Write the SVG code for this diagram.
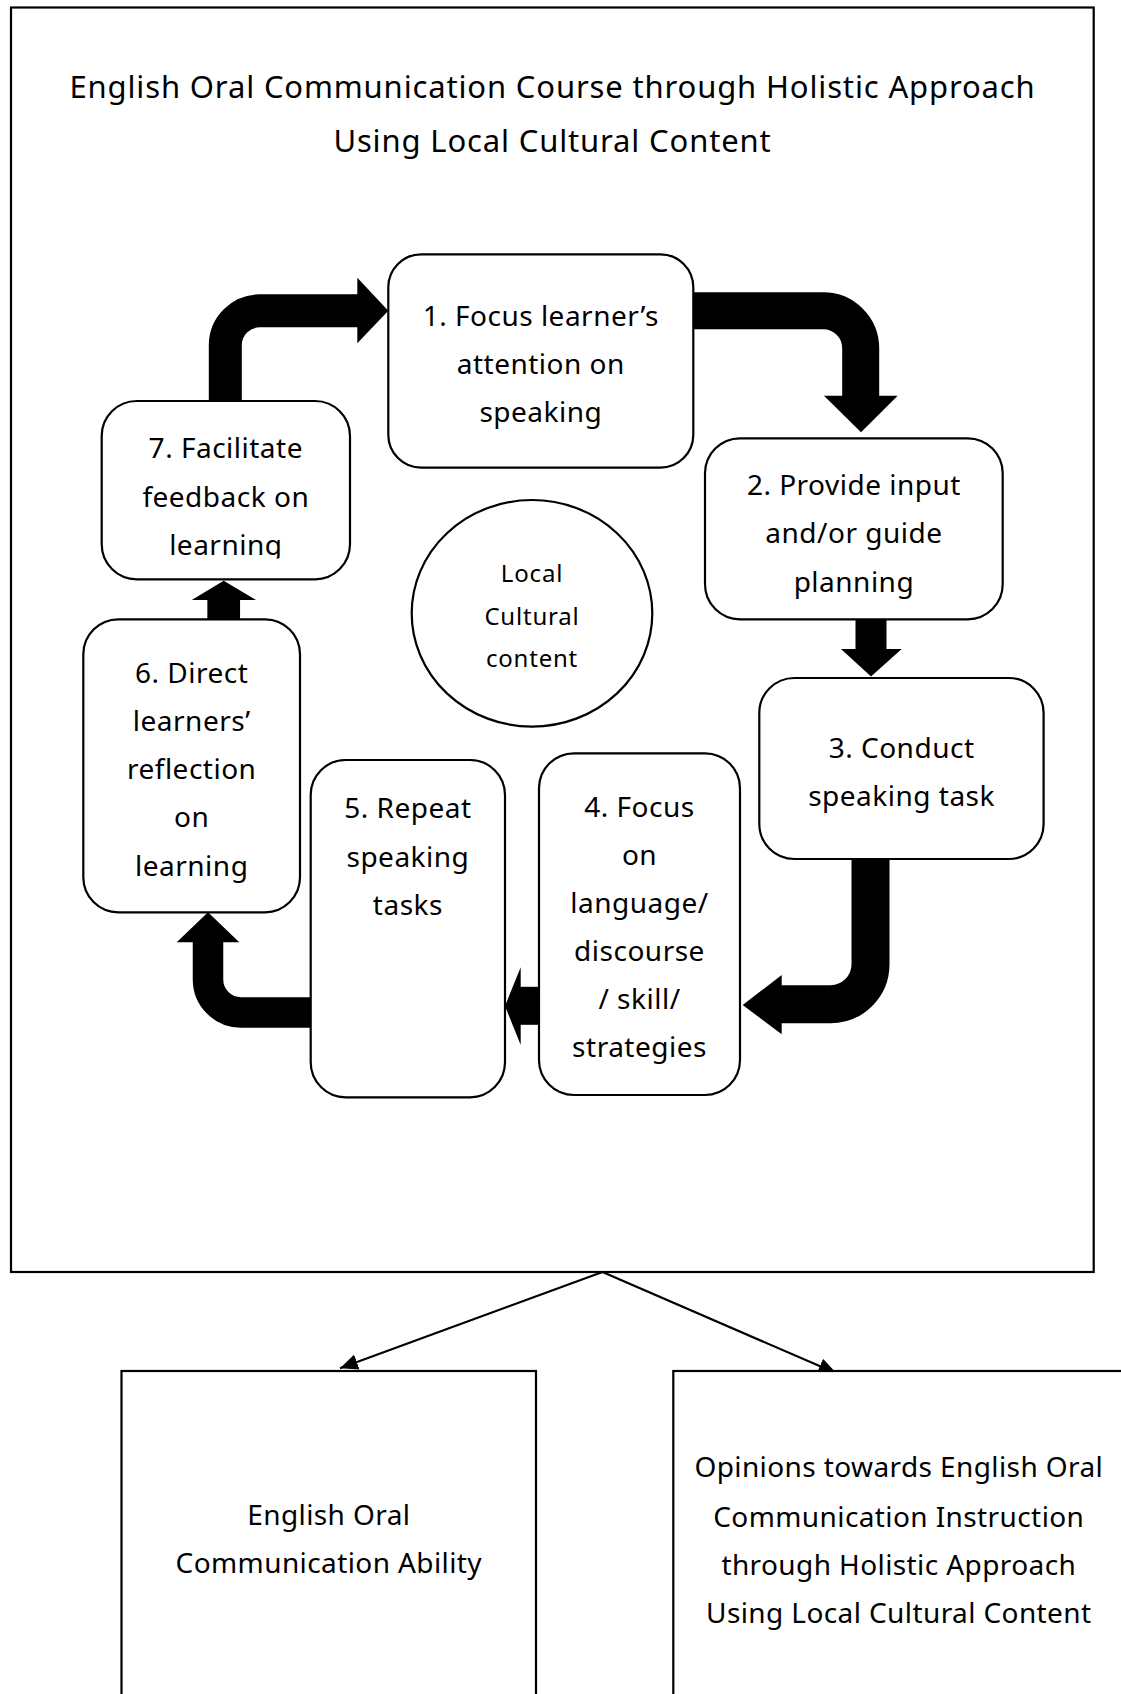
<svg xmlns="http://www.w3.org/2000/svg" width="1121" height="1694" viewBox="0 0 1121 1694">
<style>
text{font-family:"Noto Sans","Open Sans",sans-serif;fill:#000;text-anchor:middle}
.t{font-size:31px;letter-spacing:0.85px}
.b{font-size:28px;letter-spacing:0.5px}
.c{font-size:24px;letter-spacing:0.8px}
.o{font-size:28px;letter-spacing:0.4px}
.box{fill:#fff;stroke:#000;stroke-width:2.2}
.frame{fill:none;stroke:#000;stroke-width:2.2}
.shaft{fill:none;stroke:#000}
.head{fill:#000;stroke:none}
.line{fill:none;stroke:#000;stroke-width:2.2}
</style>
<defs>
<marker id="ah" markerUnits="userSpaceOnUse" markerWidth="20" markerHeight="16" refX="18" refY="8" orient="auto">
<path d="M0,0 L18,8 L0,16 Z" fill="#000"/>
</marker>
<clipPath id="clip7"><rect x="100" y="400" width="252" height="158.5"/></clipPath>
</defs>
<rect width="1121" height="1694" fill="#fff"/>
<g id="frame">
<rect class="frame" x="11" y="7.5" width="1082.7" height="1264.5"/>
<text class="t" x="552.5" y="97.7">English Oral Communication Course through Holistic Approach</text>
<text class="t" x="552.5" y="151.7">Using Local Cultural Content</text>
</g>
<g id="connectors">
<path class="shaft" stroke-width="33" d="M225.3,402 V345.3 A34.5,34.5 0 0 1 259.8,310.8 H358"/>
<polygon class="head" points="357.3,277.7 388.3,310.7 357.3,343.3"/>
<path class="shaft" stroke-width="37" d="M692,310.8 H823.2 A37.5,37.5 0 0 1 860.7,348.3 V396.5"/>
<polygon class="head" points="824,395.7 897.7,395.7 861,432.3"/>
<path class="shaft" stroke-width="31" d="M871,618 V650"/>
<polygon class="head" points="841,649 901.7,649 871,676.5"/>
<path class="shaft" stroke-width="38" d="M870.5,858 V964.2 A40,40 0 0 1 830.5,1004.2 H781"/>
<polygon class="head" points="781.7,975 742.7,1005 781.7,1034.3"/>
<path class="shaft" stroke-width="38" d="M540,1005.8 H520"/>
<polygon class="head" points="520.7,967.3 505,1006 520.7,1045"/>
<path class="shaft" stroke-width="30.5" d="M311.5,1012.5 H241 A33,33 0 0 1 208,979.5 V941.5"/>
<polygon class="head" points="176.7,942.3 208,912.3 239.3,942.3"/>
<path class="shaft" stroke-width="32.7" d="M223.7,620 V599"/>
<polygon class="head" points="191.7,600 223.7,580.7 256,600"/>
<path class="line" d="M602.5,1272 L340,1368.3" marker-end="url(#ah)"/>
<path class="line" d="M602.5,1272 L836.4,1373.3" marker-end="url(#ah)"/>
</g>
<g id="node1">
<rect class="box" x="388.3" y="254.3" width="305" height="213.4" rx="33"/>
<text class="b" x="540.8" y="326">1. Focus learner’s</text>
<text class="b" x="540.8" y="373.5">attention on</text>
<text class="b" x="540.8" y="421.7">speaking</text>
</g>
<g id="node2">
<rect class="box" x="705" y="438.3" width="297.7" height="181" rx="35"/>
<text class="b" x="853.9" y="495">2. Provide input</text>
<text class="b" x="853.9" y="543.3">and/or guide</text>
<text class="b" x="853.9" y="591.7">planning</text>
</g>
<g id="node3">
<rect class="box" x="759.3" y="678" width="284.3" height="181" rx="35"/>
<text class="b" x="901.6" y="758.3">3. Conduct</text>
<text class="b" x="901.6" y="806">speaking task</text>
</g>
<g id="node4">
<rect class="box" x="539" y="753.3" width="201" height="341.7" rx="35"/>
<text class="b" x="639.5" y="816.7">4. Focus</text>
<text class="b" x="639.5" y="865">on</text>
<text class="b" x="639.5" y="913.3">language/</text>
<text class="b" x="639.5" y="961">discourse</text>
<text class="b" x="639.5" y="1009.3">/ skill/</text>
<text class="b" x="639.5" y="1056.7">strategies</text>
</g>
<g id="node5">
<rect class="box" x="310.7" y="760" width="194.3" height="337.3" rx="35"/>
<text class="b" x="407.9" y="818.3">5. Repeat</text>
<text class="b" x="407.9" y="866.7">speaking</text>
<text class="b" x="407.9" y="915">tasks</text>
</g>
<g id="node6">
<rect class="box" x="83.3" y="619.3" width="216.7" height="293" rx="35"/>
<text class="b" x="191.7" y="682.7">6. Direct</text>
<text class="b" x="191.7" y="730.7">learners’</text>
<text class="b" x="191.7" y="779.3">reflection</text>
<text class="b" x="191.7" y="827.3">on</text>
<text class="b" x="191.7" y="876">learning</text>
</g>
<g id="node7">
<rect class="box" x="101.7" y="401" width="248.3" height="178.3" rx="35"/>
<g clip-path="url(#clip7)">
<text class="b" x="225.8" y="458">7. Facilitate</text>
<text class="b" x="225.8" y="506.7">feedback on</text>
<text class="b" x="225.8" y="555">learning</text>
</g>
</g>
<g id="center">
<ellipse class="box" cx="532" cy="613.3" rx="120.3" ry="113.3"/>
<text class="c" x="532" y="581.7">Local</text>
<text class="c" x="532" y="625">Cultural</text>
<text class="c" x="532" y="666.7">content</text>
</g>
<g id="outcome1">
<rect class="box" x="121.5" y="1371" width="414.5" height="400"/>
<text class="o" x="328.8" y="1525">English Oral</text>
<text class="o" x="328.8" y="1573.3">Communication Ability</text>
</g>
<g id="outcome2">
<rect class="box" x="673.3" y="1371" width="460" height="400"/>
<text class="o" x="898.8" y="1476.7">Opinions towards English Oral</text>
<text class="o" x="898.8" y="1526.7">Communication Instruction</text>
<text class="o" x="898.8" y="1575">through Holistic Approach</text>
<text class="o" x="898.8" y="1623.3">Using Local Cultural Content</text>
</g>
</svg>
